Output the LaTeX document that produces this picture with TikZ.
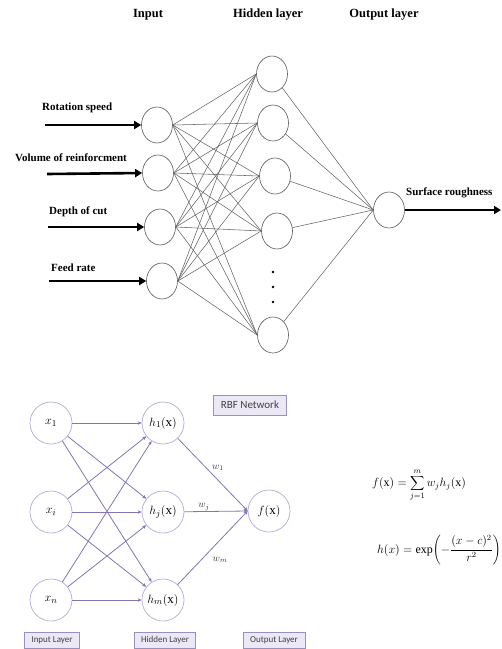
\documentclass[tikz,border=0pt]{standalone}
\usepackage{fontspec}
\setmainfont{Liberation Serif}
\newfontfamily\boxfont{Carlito}
\usetikzlibrary{shapes.geometric,arrows.meta}
\definecolor{rbfline}{HTML}{8474B4}
\definecolor{rbfcirc}{HTML}{B4A8DA}
\definecolor{rbfbox}{HTML}{ECE8F6}
\definecolor{rbfboxd}{HTML}{9A90C0}
\tikzset{
  neuron/.style={ellipse,draw=black!65,line width=0.6pt,minimum width=31pt,minimum height=36pt,inner sep=0pt},
  wire/.style={draw=black!60,line width=0.55pt},
  feed/.style={line width=2.6pt,-{Triangle[length=7pt,width=8pt]}},
  lbl/.style={font=\fontsize{11}{12}\selectfont\bfseries,inner sep=0pt},
  ttl/.style={font=\fontsize{12.5}{13}\selectfont\bfseries,inner sep=0pt},
  rnode/.style={circle,draw=rbfcirc,line width=0.7pt,minimum size=42pt,inner sep=0pt,font=\fontsize{13}{14}\selectfont},
  rwire/.style={draw=rbfline,line width=0.8pt,-{Stealth[length=4pt,width=3.5pt]}},
  rbox/.style={draw=rbfboxd,fill=rbfbox,line width=0.8pt,inner sep=0pt,font=\boxfont\fontsize{9}{10}\selectfont,text=black!75},
  wlab/.style={font=\fontsize{10}{11}\selectfont,inner sep=0pt,text=black!80},
  eqn/.style={inner sep=0pt,font=\fontsize{12}{14}\selectfont},
  dotn/.style={circle,fill=black,inner sep=0pt,minimum size=2.6pt}
}
\begin{document}
\begin{tikzpicture}[x=1pt,y=-1pt]
\useasboundingbox (0,0) rectangle (502,649);
% ---------- top network ----------
\node[ttl] (tin) at (148,15) {Input};
\node[ttl] (thid) at (268,15) {Hidden layer};
\node[ttl] (tout) at (384,15) {Output layer};

\node[neuron] (i1) at (157,125) {};
\node[neuron] (i2) at (158,173) {};
\node[neuron] (i3) at (160,227) {};
\node[neuron] (i4) at (162,281) {};

\node[neuron] (h1) at (272,74) {};
\node[neuron] (h2) at (273,123) {};
\node[neuron] (h3) at (275,176) {};
\node[neuron] (h4) at (277,231) {};
\node[neuron] (h5) at (273,335) {};

\node[neuron] (o) at (389,210) {};

\node[dotn] (d1) at (273,272) {};
\node[dotn] (d2) at (273,287) {};
\node[dotn] (d3) at (273,302) {};

\foreach \i in {1,2,3,4}{
  \foreach \h in {1,2,3,4,5}{
    \draw[wire] (i\i.east) -- (h\h.west);
  }
}
\foreach \h in {1,2,3,4,5}{
  \draw[wire] (h\h) -- (o.west);
}

\coordinate (a1) at (45,125);
\coordinate (a2) at (47,174);
\coordinate (a3) at (48,227);
\coordinate (a4) at (49,281);
\coordinate (ae) at (501,210);
\draw[feed] (a1) -- (i1.west);
\draw[feed] (a2) -- (i2.west);
\draw[feed] (a3) -- (i3.west);
\draw[feed] (a4) -- (i4.west);
\draw[feed] (o.east) -- (ae);

\node[lbl,anchor=west] (l1) at (42,108) {Rotation speed};
\node[lbl,anchor=west] (l2) at (15,158) {Volume of reinforcment};
\node[lbl,anchor=west] (l3) at (49,212) {Depth of cut};
\node[lbl,anchor=west] (l4) at (51,268) {Feed rate};
\node[lbl,anchor=west] (l5) at (406,193) {Surface roughness};

% ---------- RBF network ----------
\node[rnode] (x1) at (51,423) {$x_1$};
\node[rnode] (xi) at (51,512) {$x_i$};
\node[rnode] (xn) at (51,600) {$x_n$};
\node[rnode] (r1) at (163,423) {$h_1(\mathrm{x})$};
\node[rnode] (rj) at (163,512) {$h_j(\mathrm{x})$};
\node[rnode] (rm) at (163,600) {$h_m(\mathrm{x})$};
\node[rnode] (f) at (269,511) {$f(\mathrm{x})$};

\foreach \a in {x1,xi,xn}{
  \foreach \b in {r1,rj,rm}{
    \draw[rwire] (\a) -- (\b);
  }
}
\draw[rwire] (r1) -- (f.west);
\draw[rwire] (rj) -- (f.west);
\draw[rwire] (rm) -- (f.west);

\node[wlab] (w1) at (218,468) {$w_1$};
\node[wlab] (wj) at (204,507) {$w_j$};
\node[wlab] (wm) at (220,560) {$w_m$};

\node[rbox,minimum width=73pt,minimum height=20pt,font=\boxfont\fontsize{11}{12}\selectfont] (rbf) at (250,405) {RBF Network};
\node[rbox,minimum width=55pt,minimum height=16pt] (bin) at (52,640) {Input Layer};
\node[rbox,minimum width=61pt,minimum height=16pt] (bhid) at (165,640) {Hidden Layer};
\node[rbox,minimum width=62pt,minimum height=16pt] (bout) at (274,640) {Output Layer};

\node[eqn] (eq1) at (419,485)
  {$\displaystyle f(\mathrm{x})=\sum_{j=1}^{m} w_j h_j(\mathrm{x})$};
\node[eqn,anchor=east] (eq2) at (501,550)
  {$\displaystyle h(x)=\exp\!\left(-\frac{(x-c)^2}{r^2}\right)$};
\end{tikzpicture}
\end{document}
